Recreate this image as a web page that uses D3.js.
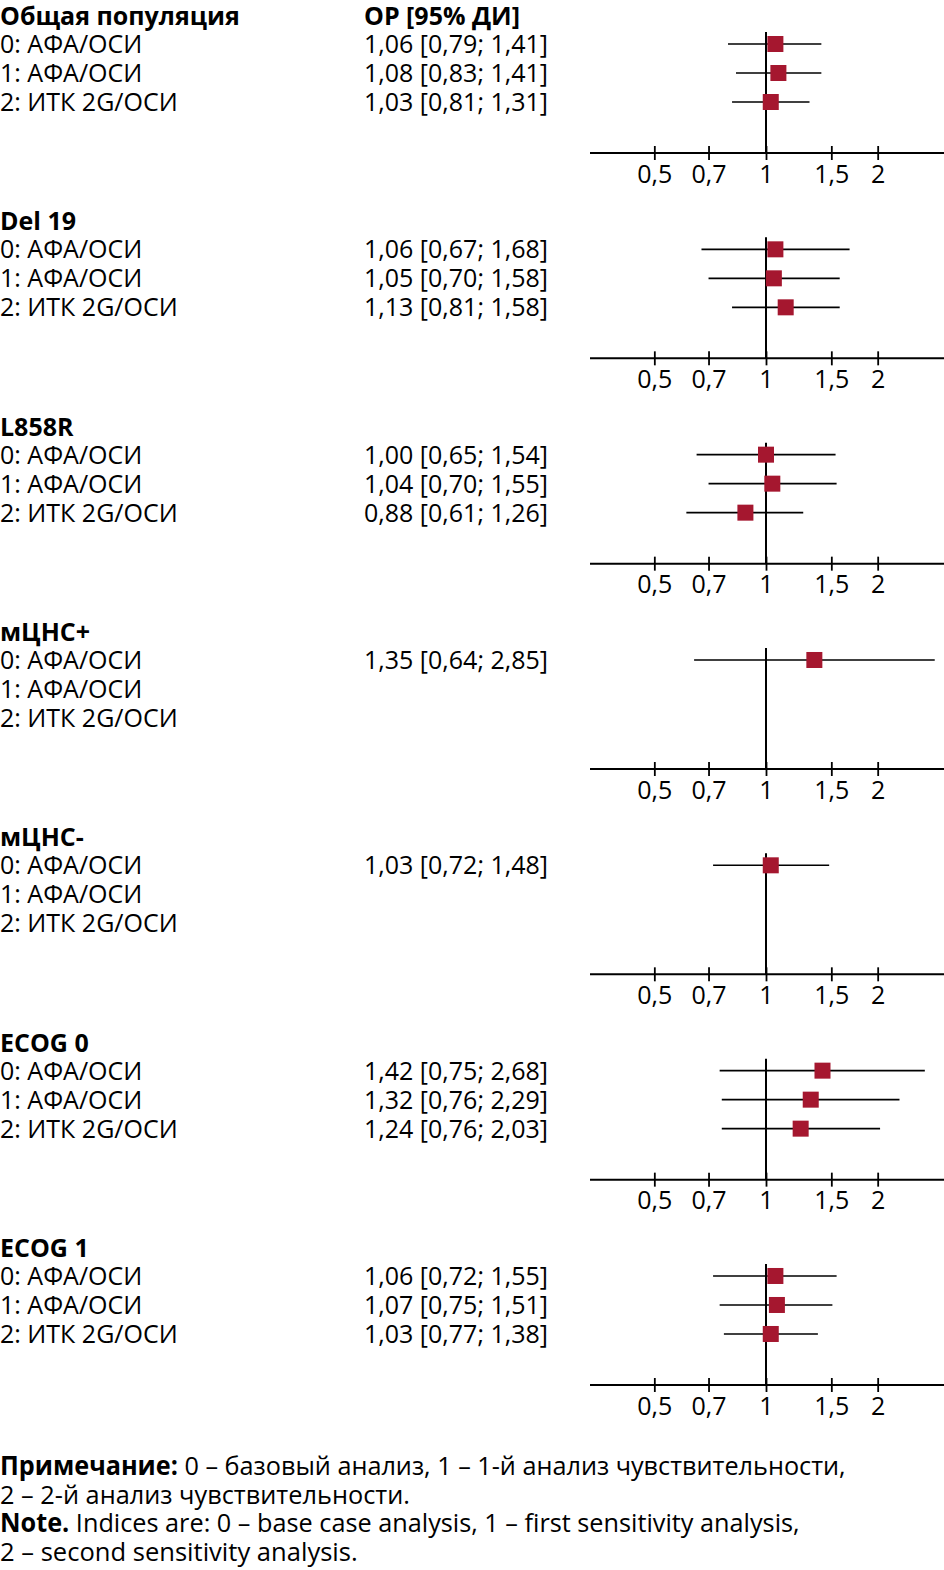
<!DOCTYPE html>
<html>
<head>
<meta charset="utf-8">
<script src="https://cdn.jsdelivr.net/npm/d3@7"></script>
<style>
  body { margin: 0; background: #fff; }
  text { font-family: "Open Sans", "Noto Sans", sans-serif; fill: #000; }
</style>
</head>
<body>
<div id="chart"></div>
<script>
// subgroups, one panel each
var groups = ["Общая популяция", "Del 19", "L858R", "мЦНС+", "мЦНС-", "ECOG 0", "ECOG 1"];
var analyses = ["0: АФА/ОСИ", "1: АФА/ОСИ", "2: ИТК 2G/ОСИ"];

// hazard ratio, lower and upper 95% CI, per group and analysis (null = not reported)
var hr = [
    [1.06, 1.08, 1.03],
    [1.06, 1.05, 1.13],
    [1.00, 1.04, 0.88],
    [1.35, null, null],
    [1.03, null, null],
    [1.42, 1.32, 1.24],
    [1.06, 1.07, 1.03]
];
var lower = [
    [0.79, 0.83, 0.81],
    [0.67, 0.70, 0.81],
    [0.65, 0.70, 0.61],
    [0.64, null, null],
    [0.72, null, null],
    [0.75, 0.76, 0.76],
    [0.72, 0.75, 0.77]
];
var upper = [
    [1.41, 1.41, 1.31],
    [1.68, 1.58, 1.58],
    [1.54, 1.55, 1.26],
    [2.85, null, null],
    [1.48, null, null],
    [2.68, 2.29, 2.03],
    [1.55, 1.51, 1.38]
];
var tickValues = [0.5, 0.7, 1, 1.5, 2];
var header = "ОР [95% ДИ]";

var width = 944, height = 1570;
var panelStep = 205.33, firstRow = 44, rowStep = 29;
var axisOffset = 109;
var fontSize = 25;

var svg = d3.select("#chart")
    .append("svg")
    .attr("width", width)
    .attr("height", height);

var x = d3.scaleLog()
    .domain([1 / 3, 3])
    .range([589, 943]);

var fmt = function(v) { return d3.format(".2f")(v).replace(".", ","); };

groups.forEach(function(name, g) {
    var y0 = firstRow + g * panelStep;
    var panel = svg.append("g");

    // group title
    panel.append("text")
        .attr("x", 0)
        .attr("y", y0 - rowStep + 10)
        .attr("font-size", fontSize)
        .attr("font-weight", "bold")
        .text(name);

    if (g === 0) {
        panel.append("text")
            .attr("x", 364)
            .attr("y", y0 - rowStep + 10)
            .attr("font-size", fontSize)
            .attr("font-weight", "bold")
            .text(header);
    }

    var rows = analyses.map(function(a, i) {
        return { label: a, i: i, hr: hr[g][i], lo: lower[g][i], hi: upper[g][i] };
    });

    // labels
    panel.selectAll(".label")
        .data(rows)
        .enter().append("text")
        .attr("x", 0)
        .attr("y", function(d) { return y0 + d.i * rowStep + 9; })
        .attr("font-size", fontSize)
        .text(function(d) { return d.label; });

    var shown = rows.filter(function(d) { return d.hr !== null; });

    panel.selectAll(".ci-text")
        .data(shown)
        .enter().append("text")
        .attr("x", 364)
        .attr("y", function(d) { return y0 + d.i * rowStep + 9; })
        .attr("font-size", fontSize)
        .text(function(d) { return fmt(d.hr) + " [" + fmt(d.lo) + "; " + fmt(d.hi) + "]"; });

    // axis
    var axisY = y0 + axisOffset;
    var axis = panel.append("g")
        .attr("transform", "translate(0," + axisY + ")")
        .call(d3.axisBottom(x)
            .tickValues(tickValues)
            .tickSizeOuter(0)
            .tickSizeInner(7)
            .tickFormat(function(d) { return String(d).replace(".", ","); }));
    axis.select(".domain")
        .attr("d", "M590,0H944")
        .attr("stroke", "#000")
        .attr("stroke-width", 2);
    axis.selectAll(".tick line")
        .attr("y1", -7)
        .attr("y2", 7)
        .attr("stroke", "#000")
        .attr("stroke-width", 1.8);
    axis.selectAll(".tick text")
        .attr("y", 12)
        .attr("font-size", fontSize)
        .attr("font-family", "'Open Sans', 'Noto Sans', sans-serif")
        .attr("fill", "#000");

    // line of no effect
    panel.append("line")
        .attr("x1", x(1)).attr("x2", x(1))
        .attr("y1", y0 - 12).attr("y2", axisY)
        .attr("stroke", "#000")
        .attr("stroke-width", 2);

    // confidence intervals
    panel.selectAll(".ci")
        .data(shown)
        .enter().append("line")
        .attr("x1", function(d) { return x(d.lo); })
        .attr("x2", function(d) { return x(d.hi); })
        .attr("y1", function(d) { return y0 + d.i * rowStep; })
        .attr("y2", function(d) { return y0 + d.i * rowStep; })
        .attr("stroke", "#000")
        .attr("stroke-width", 1.6);

    // point estimates
    panel.selectAll(".pt")
        .data(shown)
        .enter().append("rect")
        .attr("x", function(d) { return x(d.hr) - 8; })
        .attr("y", function(d) { return y0 + d.i * rowStep - 8; })
        .attr("width", 16)
        .attr("height", 16)
        .attr("fill", "#a5172f");
});

// footnote, condensed to fit its line
var notes = [
    { b: "Примечание:", t: " 0 – базовый анализ, 1 – 1-й анализ чувствительности,", w: 846 },
    { b: "", t: "2 – 2-й анализ чувствительности.", w: 410 },
    { b: "Note.", t: " Indices are: 0 – base case analysis, 1 – first sensitivity analysis,", w: 800 },
    { b: "", t: "2 – second sensitivity analysis.", w: 358 }
];
notes.forEach(function(n, i) {
    var t = svg.append("text")
        .attr("x", 0)
        .attr("y", 1475 + i * 28.7)
        .attr("font-size", 26);
    if (n.b) t.append("tspan").attr("font-weight", "bold").text(n.b);
    t.append("tspan").text(n.t);
    var w = t.node().getComputedTextLength();
    t.attr("transform", "scale(" + (n.w / w) + ",1)");
});
</script>
</body>
</html>
